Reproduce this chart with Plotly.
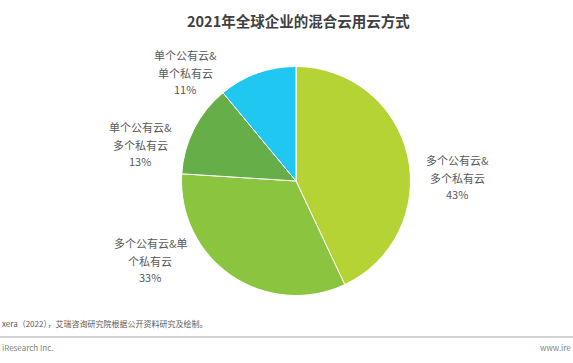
import plotly.graph_objects as go

categories = ["多个公有云&多个私有云", "多个公有云&单个私有云", "单个公有云&多个私有云", "单个公有云&单个私有云"]
values = [43, 33, 13, 11]
colors = ["#b5d335", "#8bc540", "#66ae47", "#1fc7f1"]
label_lines = [
    ["多个公有云&", "多个私有云", "43%"],
    ["多个公有云&单", "个私有云", "33%"],
    ["单个公有云&", "多个私有云", "13%"],
    ["单个公有云&", "单个私有云", "11%"],
]
label_pos = [(457, [160, 178, 194]), (150, [243, 261, 277]), (140, [127, 145, 161]), (185, [55, 73, 89])]

W, H = 573, 363
FONT = "Noto Sans CJK SC"

fig = go.Figure(go.Pie(
    labels=categories, values=values, sort=False, direction="clockwise", rotation=0,
    marker=dict(colors=colors, line=dict(color="white", width=1)),
    textinfo="none", hoverinfo="label+percent", showlegend=False,
    domain=dict(x=[181.5 / W, 410.5 / W], y=[1 - 295.5 / H, 1 - 66.5 / H]),
))

ann = []
for lines, (cx, ys) in zip(label_lines, label_pos):
    for t, y in zip(lines, ys):
        ann.append(dict(text=t, x=cx / W, y=1 - y / H, xref="paper", yref="paper",
                        showarrow=False, xanchor="center", yanchor="middle",
                        font=dict(size=11, color="#595959", family=FONT)))

ann.append(dict(text="<b>2021年全球企业的混合云用云方式</b>", x=298 / W, y=1 - 20 / H, xref="paper", yref="paper",
                showarrow=False, xanchor="center", yanchor="middle",
                font=dict(size=14.5, color="#404040", family=FONT)))
ann.append(dict(text="xera（2022），艾瑞咨询研究院根据公开资料研究及绘制。", x=0, y=1 - 323 / H, xref="paper", yref="paper",
                showarrow=False, xanchor="left", yanchor="middle",
                font=dict(size=8, color="#595959", family=FONT)))
ann.append(dict(text="iResearch Inc.", x=0, y=1 - 347 / H, xref="paper", yref="paper",
                showarrow=False, xanchor="left", yanchor="middle",
                font=dict(size=8, color="#7f7f7f", family=FONT)))
ann.append(dict(text="www.ire", x=1, y=1 - 347 / H, xref="paper", yref="paper",
                showarrow=False, xanchor="right", yanchor="middle",
                font=dict(size=8, color="#7f7f7f", family=FONT)))

fig.update_layout(
    width=W, height=H, margin=dict(l=0, r=0, t=0, b=0),
    paper_bgcolor="white", plot_bgcolor="white",
    annotations=ann,
    shapes=[dict(type="line", xref="paper", yref="paper", x0=0, x1=1, y0=1 - 337 / H, y1=1 - 337 / H,
                 line=dict(color="#a6a6a6", width=1))],
)

fig.write_html("out.html", config={"displayModeBar": False},
               post_script="document.body.style.margin='0';")
